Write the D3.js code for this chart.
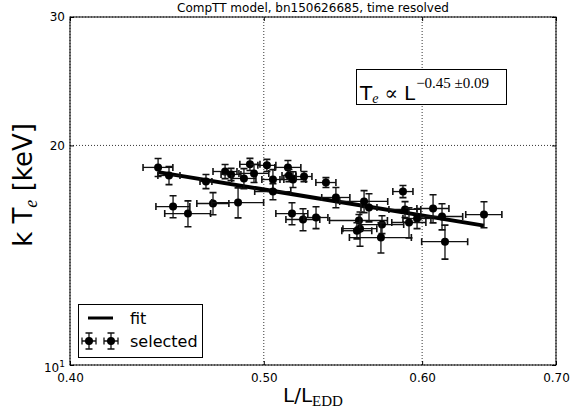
<!DOCTYPE html>
<html>
<head>
<meta charset="utf-8">
<script src="https://cdn.jsdelivr.net/npm/d3@7"></script>
<style>
  body { margin: 0; background: #fff; }
  text { font-family: "DejaVu Sans", sans-serif; fill: #000; }
  .math { font-family: "Liberation Serif", "DejaVu Serif", serif; }
</style>
</head>
<body>
<svg id="chart" width="585" height="412"></svg>
<script>
// luminosity in Eddington units, with errors
const lum = [0.4427, 0.4483, 0.4678, 0.4782, 0.4815, 0.4887, 0.4921, 0.5018, 0.5141, 0.4944,
  0.5053, 0.5147, 0.5171, 0.5237, 0.5371, 0.5053, 0.5433, 0.4504, 0.4582, 0.4716,
  0.4854, 0.5165, 0.5231, 0.5310, 0.5612, 0.5644, 0.5869, 0.5883, 0.5965, 0.6076,
  0.6139, 0.6443, 0.6160, 0.5579, 0.5586, 0.5566, 0.5729, 0.5910, 0.5722]
const lumErr = [0.0076, 0.0057, 0.0032, 0.0066, 0.0055, 0.0068, 0.0057, 0.0052, 0.0077, 0.0085,
  0.0064, 0.0041, 0.0077, 0.0048, 0.0062, 0.0105, 0.0088, 0.0088, 0.0121, 0.0087,
  0.0145, 0.0095, 0.0102, 0.0073, 0.0155, 0.0052, 0.0068, 0.0108, 0.0096, 0.0112,
  0.0148, 0.0134, 0.0163, 0.0186, 0.0109, 0.0096, 0.0145, 0.0116, 0.0204]
// electron temperature kTe [keV], with errors
const kTe = [18.66, 18.19, 17.85, 18.42, 18.25, 18.02, 18.84, 18.78, 18.66, 18.31,
  17.96, 18.19, 17.96, 18.13, 17.79, 17.29, 16.97, 16.49, 16.13, 16.65,
  16.70, 16.13, 15.83, 15.93, 16.76, 16.44, 17.29, 16.34, 15.88, 16.39,
  15.98, 16.08, 14.76, 15.78, 15.38, 15.28, 15.58, 15.68, 14.95]
const kTeErr = [0.53, 0.52, 0.40, 0.41, 0.35, 0.57, 0.36, 0.36, 0.41, 0.52,
  0.57, 0.35, 0.45, 0.29, 0.28, 0.44, 0.54, 0.57, 0.66, 0.58,
  0.79, 0.56, 0.55, 0.55, 0.58, 0.73, 0.33, 0.41, 0.50, 0.73,
  0.66, 0.66, 0.79, 0.30, 0.83, 0.39, 0.44, 0.74, 0.71]

const xTicks = [0.40, 0.50, 0.60, 0.70]
const yTicks = [10, 20, 30]

// power-law fit  kTe = norm * L^index
const fitNorm = 12.74
const fitIndex = -0.45
const fitIndexErr = 0.09

const margin = { left: 70, right: 29, top: 17, bottom: 47 }
const width = 585
const height = 412

const svg = d3.select('#chart')

const x = d3.scaleLog().domain([0.4, 0.7]).range([margin.left, width - margin.right])
const y = d3.scaleLog().domain([10, 30]).range([height - margin.bottom, margin.top])

const x0 = x.range()[0]
const x1 = x.range()[1]
const y0 = y.range()[0]
const y1 = y.range()[1]

// grid (dotted)
const grid = svg.append('g')
grid.selectAll('.vg').data(xTicks).enter().append('line')
  .attr('x1', d => x(d)).attr('x2', d => x(d))
  .attr('y1', y0).attr('y2', y1)
  .attr('stroke', '#000').attr('stroke-width', 0.8).attr('stroke-dasharray', '1,2')
grid.selectAll('.hg').data(yTicks).enter().append('line')
  .attr('x1', x0).attr('x2', x1)
  .attr('y1', d => y(d)).attr('y2', d => y(d))
  .attr('stroke', '#000').attr('stroke-width', 0.8).attr('stroke-dasharray', '1,2')

// axes, ticks pointing inward
svg.append('g')
  .attr('transform', `translate(0,${y0})`)
  .call(d3.axisBottom(x).tickValues(xTicks).tickFormat(d3.format('.2f')).tickSize(-4).tickPadding(8))
svg.append('g')
  .attr('transform', `translate(0,${y1})`)
  .call(d3.axisTop(x).tickValues(xTicks).tickFormat('').tickSize(-4))
const yAxis = svg.append('g')
  .attr('transform', `translate(${x0},0)`)
  .call(d3.axisLeft(y).tickValues(yTicks).tickFormat(d => d).tickSize(-4).tickPadding(5))
svg.append('g')
  .attr('transform', `translate(${x1},0)`)
  .call(d3.axisRight(y).tickValues(yTicks).tickFormat('').tickSize(-4))

svg.selectAll('.domain').remove()
svg.selectAll('.tick line').attr('stroke', '#000')
svg.selectAll('.tick text').attr('font-size', 12).attr('font-family', 'DejaVu Sans')

// the bottom y label is written as 10^1
yAxis.selectAll('.tick text').filter(d => d === 10)
  .text(null)
  .call(t => {
    t.append('tspan').text('10')
    t.append('tspan').attr('font-size', 9).attr('dy', '-0.5em').text('1')
  })
  .attr('dy', '0.5em')

svg.append('rect')
  .attr('x', x0).attr('y', y1)
  .attr('width', x1 - x0).attr('height', y0 - y1)
  .attr('fill', 'none').attr('stroke', '#000').attr('stroke-width', 1)

// fit line
const fitX = d3.extent(lum)
svg.append('line')
  .attr('x1', x(fitX[0])).attr('y1', y(fitNorm * Math.pow(fitX[0], fitIndex)))
  .attr('x2', x(fitX[1])).attr('y2', y(fitNorm * Math.pow(fitX[1], fitIndex)))
  .attr('stroke', '#000').attr('stroke-width', 4)

// points with error bars
const cap = 3.5
const pts = svg.append('g').selectAll('g')
  .data(lum.map((l, i) => ({ l, le: lumErr[i], t: kTe[i], te: kTeErr[i] })))
  .enter().append('g')
  .attr('stroke', '#111').attr('stroke-width', 1.3)

pts.append('line')
  .attr('x1', d => x(d.l - d.le)).attr('x2', d => x(d.l + d.le))
  .attr('y1', d => y(d.t)).attr('y2', d => y(d.t))
pts.append('line')
  .attr('x1', d => x(d.l)).attr('x2', d => x(d.l))
  .attr('y1', d => y(d.t - d.te)).attr('y2', d => y(d.t + d.te))
pts.append('path')
  .attr('stroke-width', 1.6)
  .attr('d', d => {
    const xl = x(d.l - d.le); const xr = x(d.l + d.le); const yc = y(d.t)
    const yb = y(d.t - d.te); const yt = y(d.t + d.te); const xc = x(d.l)
    return `M${xl},${yc - cap}V${yc + cap}M${xr},${yc - cap}V${yc + cap}` +
      `M${xc - cap},${yb}H${xc + cap}M${xc - cap},${yt}H${xc + cap}`
  })
pts.append('circle')
  .attr('cx', d => x(d.l)).attr('cy', d => y(d.t))
  .attr('r', 4).attr('fill', '#000').attr('stroke', 'none')

// title
svg.append('text')
  .attr('x', (x0 + x1) / 2).attr('y', 12)
  .attr('text-anchor', 'middle').attr('font-size', 12)
  .text('CompTT model, bn150626685, time resolved')

// x label
const xl = svg.append('text')
  .attr('x', (x0 + x1) / 2).attr('y', 402)
  .attr('text-anchor', 'middle').attr('font-size', 20)
xl.append('tspan').text('L/L')
xl.append('tspan').attr('class', 'math').attr('font-size', 15).attr('dy', 4).text('EDD')

// y label
const yl = svg.append('text')
  .attr('transform', `translate(32,${(y0 + y1) / 2 - 6}) rotate(-90)`)
  .attr('text-anchor', 'middle').attr('font-size', 26)
yl.append('tspan').text('k T')
yl.append('tspan').attr('class', 'math').attr('font-style', 'italic').attr('font-size', 18).attr('dy', 5).text('e')
yl.append('tspan').attr('dy', -5).text(' [keV]')

// annotation box
svg.append('rect')
  .attr('x', 356.5).attr('y', 69.5).attr('width', 150).attr('height', 35)
  .attr('fill', '#fff').attr('stroke', '#000').attr('stroke-width', 1)
const ann = svg.append('text').attr('x', 360).attr('y', 100).attr('font-size', 20)
ann.append('tspan').text('T')
ann.append('tspan').attr('class', 'math').attr('font-style', 'italic').attr('font-size', 14).attr('dy', 3).text('e')
ann.append('tspan').attr('class', 'math').attr('dy', -3).attr('dx', 6).text('\u221D')
ann.append('tspan').attr('dx', 6).text('L')
ann.append('tspan').attr('class', 'math').attr('font-size', 15).attr('dy', -12).attr('dx', 1)
  .text(`\u2212${Math.abs(fitIndex).toFixed(2)} \u00B1${fitIndexErr.toFixed(2)}`)

// legend
const lg = svg.append('g')
lg.append('rect')
  .attr('x', 78.5).attr('y', 304.5).attr('width', 124).attr('height', 53)
  .attr('fill', '#fff').attr('stroke', '#000').attr('stroke-width', 1)
lg.append('line')
  .attr('x1', 88).attr('x2', 113).attr('y1', 318).attr('y2', 318)
  .attr('stroke', '#000').attr('stroke-width', 3)
lg.append('text').attr('x', 130).attr('y', 324).attr('font-size', 16).text('fit')
const lgPts = lg.selectAll('.lp').data([89, 111]).enter().append('g')
  .attr('stroke', '#111').attr('stroke-width', 1.3)
lgPts.append('path')
  .attr('d', d => `M${d - 7},341H${d + 7}M${d},333V349M${d - 7},${341 - cap}V${341 + cap}` +
    `M${d + 7},${341 - cap}V${341 + cap}M${d - cap},333H${d + cap}M${d - cap},349H${d + cap}`)
lgPts.append('circle').attr('cx', d => d).attr('cy', 341).attr('r', 4)
  .attr('fill', '#000').attr('stroke', 'none')
lg.append('text').attr('x', 130).attr('y', 347).attr('font-size', 16).text('selected')
</script>
</body>
</html>
